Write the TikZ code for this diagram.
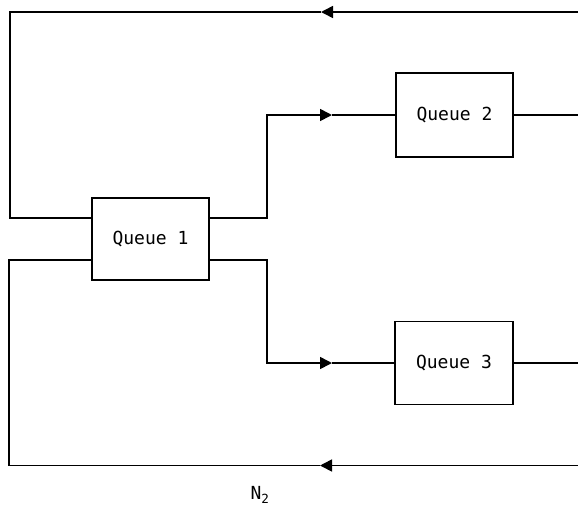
\documentclass[tikz,border=0pt]{standalone}
\usepackage{fontspec}
\setmonofont{DejaVu Sans Mono}
\usetikzlibrary{arrows.meta,calc}
\begin{document}
\begin{tikzpicture}[x=1pt,y=-1pt,line width=1.6pt,
  qbox/.style={draw,line width=1.6pt,inner sep=0pt,font=\ttfamily\fontsize{18}{20}\selectfont},
  tip/.style={-{Triangle[length=12pt,width=12pt]}}]
\useasboundingbox (0,0) rectangle (578,507);
\node[qbox,minimum width=117pt,minimum height=82pt] (q1) at (150.5,239) {Queue 1};
\node[qbox,minimum width=117pt,minimum height=84pt] (q2) at (454.5,115) {Queue 2};
\node[qbox,minimum width=118pt,minimum height=83pt] (q3) at (454,363) {Queue 3};
\node[font=\ttfamily\fontsize{18}{20}\selectfont,inner sep=0pt] (n2) at (260,495) {N\textsubscript{2}};
% coordinates
\coordinate (tr) at (578,12);
\coordinate (ta) at (321,12);
\coordinate (tl) at (10,12);
\coordinate (l1) at (10,218);
\coordinate (br) at (578,465.5);
\coordinate (ba) at (320,465.5);
\coordinate (bl) at (9,465.5);
\coordinate (l2) at (9,260);
\coordinate (u1) at (267,218);
\coordinate (u2) at (267,115);
\coordinate (ua) at (332,115);
\coordinate (d1) at (267,260);
\coordinate (d2) at (267,363);
\coordinate (da) at (332,363);
\coordinate (r2) at (578,115);
\coordinate (r3) at (578,363);
% feedback top
\draw[tip] (tr) -- (ta);
\draw (ta) -- (tl) -- (l1) -- (l1 -| q1.west);
% feedback bottom
\draw[tip] (br) -- (ba);
\draw (ba) -- (bl) -- (l2) -- (l2 -| q1.west);
% to queue 2
\draw[tip] (u1 -| q1.east) -- (u1) -- (u2) -- (ua);
\draw (ua) -- (q2.west);
% to queue 3
\draw[tip] (d1 -| q1.east) -- (d1) -- (d2) -- (da);
\draw (da) -- (q3.west);
% outputs
\draw (q2.east) -- (r2);
\draw (q3.east) -- (r3);
\end{tikzpicture}
\end{document}
